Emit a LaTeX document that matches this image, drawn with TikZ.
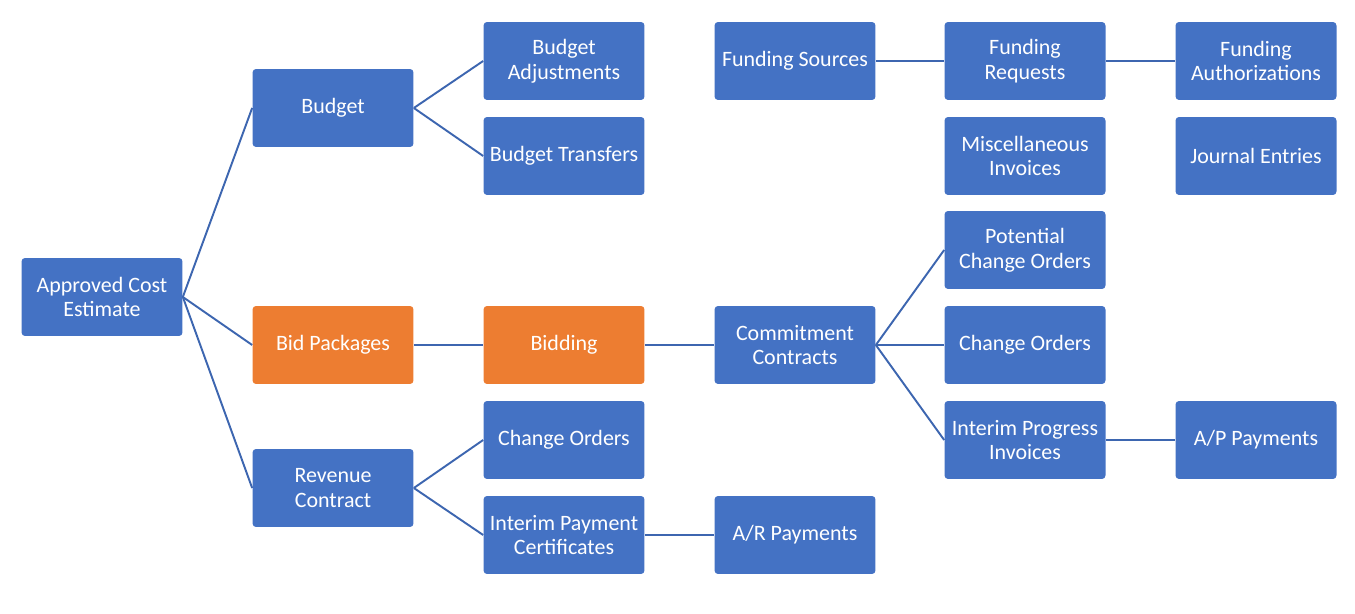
\documentclass[tikz,border=0pt]{standalone}
\usepackage{fontspec}
\setmainfont{Carlito}
\usepackage{tikz}
\usetikzlibrary{positioning,calc}

\definecolor{boxblue}{HTML}{4472C4}
\definecolor{boxorange}{HTML}{ED7D31}
\definecolor{linkblue}{HTML}{3D66B0}

\begin{document}
\begin{tikzpicture}[
        x=0.02cm, y=-0.02cm,
        block/.style={rectangle, rounded corners=2pt, fill=boxblue, text=white, minimum height=1.56cm, minimum width=3.22cm, align=center, font=\fontsize{12.5}{14}\selectfont, inner sep=1pt},
        hot/.style={block, fill=boxorange},
        link/.style={draw=linkblue, line width=1.1pt}
    ]
        \useasboundingbox (0,0) rectangle (1355,614);

        % First column
        \node[block] (ace) at (102,297) {Approved Cost\\Estimate};

        % Second column
        \node[block] (budget) at (333,108) {Budget};
        \node[hot] (bidpkg) at (333,345) {Bid Packages};
        \node[block] (revenue) at (333,488) {Revenue\\Contract};

        % Third column
        \node[block] (badjust) at (564,61) {Budget\\Adjustments};
        \node[block] (btransfer) at (564,156) {Budget Transfers};
        \node[hot] (bidding) at (564,345) {Bidding};
        \node[block] (rchange) at (564,440) {Change Orders};
        \node[block] (ipcert) at (564,535) {Interim Payment\\Certificates};

        % Fourth column
        \node[block] (fsource) at (795,61) {Funding Sources};
        \node[block] (commit) at (795,345) {Commitment\\Contracts};
        \node[block] (arpay) at (795,535) {A/R Payments};

        % Fifth column
        \node[block] (frequest) at (1025,61) {Funding\\Requests};
        \node[block] (misc) at (1025,156) {Miscellaneous\\Invoices};
        \node[block] (pco) at (1025,250) {Potential\\Change Orders};
        \node[block] (cchange) at (1025,345) {Change Orders};
        \node[block] (ipinv) at (1025,440) {Interim Progress\\Invoices};

        % Sixth column
        \node[block] (fauth) at (1256,61) {Funding\\Authorizations};
        \node[block] (journal) at (1256,156) {Journal Entries};
        \node[block] (appay) at (1256,440) {A/P Payments};

        % Links
        \draw[link] (ace.east) -- (budget.west);
        \draw[link] (ace.east) -- (bidpkg.west);
        \draw[link] (ace.east) -- (revenue.west);
        \draw[link] (budget.east) -- (badjust.west);
        \draw[link] (budget.east) -- (btransfer.west);
        \draw[link] (bidpkg) -- (bidding);
        \draw[link] (bidding) -- (commit);
        \draw[link] (revenue.east) -- (rchange.west);
        \draw[link] (revenue.east) -- (ipcert.west);
        \draw[link] (ipcert) -- (arpay);
        \draw[link] (fsource) -- (frequest);
        \draw[link] (frequest) -- (fauth);
        \draw[link] (commit.east) -- (pco.west);
        \draw[link] (commit.east) -- (cchange.west);
        \draw[link] (commit.east) -- (ipinv.west);
        \draw[link] (ipinv) -- (appay);
    \end{tikzpicture}
\end{document}
